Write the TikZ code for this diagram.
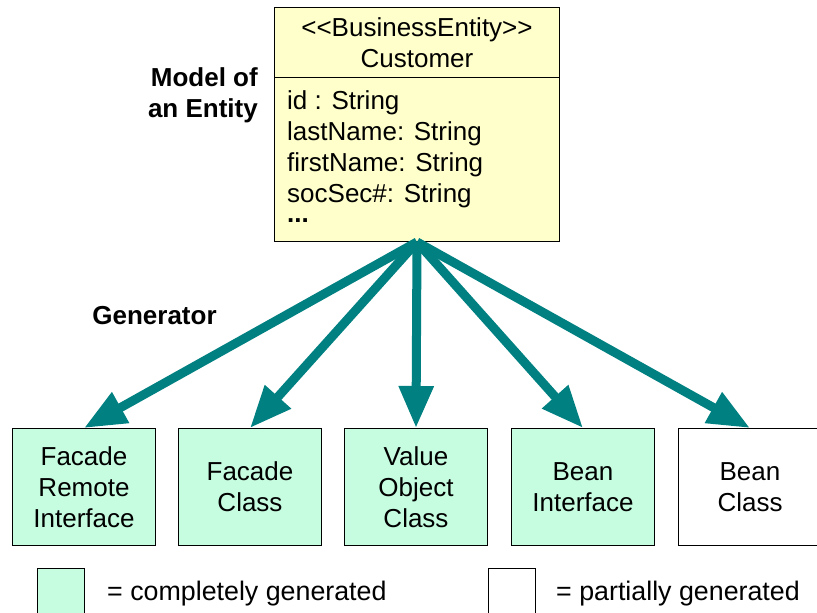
\documentclass[tikz,border=0pt]{standalone}
\usepackage{fontspec}
\setmainfont{Liberation Sans}
\usetikzlibrary{arrows.meta}
\definecolor{arrowteal}{RGB}{0,128,128}
\definecolor{entityfill}{RGB}{255,255,204}
\definecolor{genfill}{RGB}{198,252,224}
\begin{document}
\begin{tikzpicture}[x=1pt,y=-1pt,
  txt/.style={font=\fontsize{26}{31}\selectfont},
  legtxt/.style={font=\fontsize{26.8}{31}\selectfont},
  boldtxt/.style={font=\fontsize{26}{31}\selectfont\bfseries},
  entbox/.style={draw=black, line width=1pt, fill=entityfill, minimum width=285pt, anchor=north west, inner sep=0pt},
  outbox/.style={draw=black, line width=1pt, minimum width=143pt, minimum height=117pt, anchor=north west, align=center, inner sep=0pt, txt},
  gen/.style={outbox, fill=genfill},
  part/.style={outbox, fill=white},
  legbox/.style={draw=black, line width=1pt, minimum width=47pt, minimum height=52pt, anchor=north west, inner sep=0pt},
  attr/.style={txt, anchor=base west, inner sep=0pt},
  genarrow/.style={draw=arrowteal, line width=9pt, -{Triangle[length=42pt,width=33pt]}},
]
\useasboundingbox (0,0) rectangle (817,613);

% entity
\node[entbox, minimum height=70pt, align=center, txt] (head) at (274,7) {<\kern0pt<BusinessEntity>\kern0pt>\\Customer};
\node[entbox, minimum height=164pt] (attrs) at (274,77) {};
\node[attr] (a1) at (287,109) {id : String};
\node[attr] (a2) at (287,140) {lastName: String};
\node[attr] (a3) at (287,171) {firstName: String};
\node[attr] (a4) at (287,202) {socSec\#: String};
\node[attr, font=\fontsize{26}{31}\selectfont\bfseries, text height=4pt, text depth=0pt] (a5) at (287,222) {...};

% labels
\node[boldtxt, align=right, anchor=east, inner sep=0pt] (model) at (258,95.5) {Model of\\an Entity};
\node[boldtxt, inner sep=0pt] (generator) at (154.5,316) {Generator};

% generated boxes
\node[gen] (b1) at (12,428) {Facade\\Remote\\Interface};
\node[gen] (b2) at (178,428) {Facade\\Class};
\node[gen] (b3) at (344,428) {Value\\Object\\Class};
\node[gen] (b4) at (511,428) {Bean\\Interface};
\node[part] (b5) at (678,428) {Bean\\Class};

% arrows
\draw[genarrow] (attrs.south) -- (b1.north);
\draw[genarrow] (attrs.south) -- (b2.north);
\draw[genarrow] (attrs.south) -- (b3.north);
\draw[genarrow] (attrs.south) -- (b4.north);
\draw[genarrow] (attrs.south) -- (b5.north);

% legend
\node[legbox, fill=genfill] (lg1) at (37,568) {};
\node[attr, legtxt] (lt1) at (107,600) {= completely generated};
\node[legbox, fill=white] (lg2) at (488,568) {};
\node[attr, legtxt] (lt2) at (556,600) {= partially generated};
\end{tikzpicture}
\end{document}
